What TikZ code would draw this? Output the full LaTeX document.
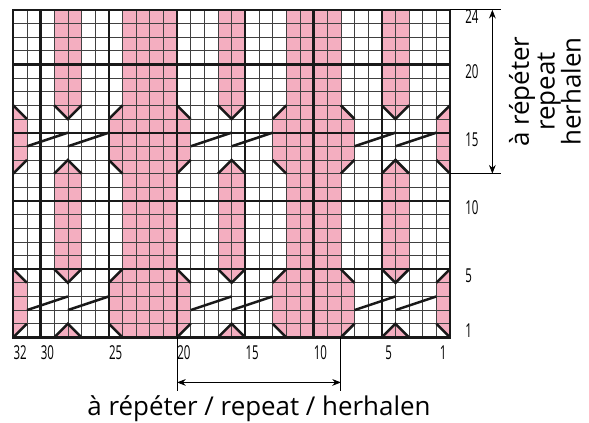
\documentclass[tikz,border=0pt]{standalone}
\usepackage{fontspec}
\setmainfont{Open Sans}
\newfontfamily\numfont[FakeStretch=0.6]{Open Sans}
\usetikzlibrary{arrows.meta}
\definecolor{rosa}{RGB}{244,174,192}

\tikzset{
  fin/.style={line width=0.7pt, black!75},
  tyk/.style={line width=2.4pt, black!90},
  snit/.style={line width=2.6pt, black!90},
  maal/.style={line width=0.8pt},
  nummer/.style={font=\numfont\fontsize{20}{20}\selectfont, inner sep=0pt},
  tekst/.style={font=\fontsize{27}{27}\selectfont, inner sep=0pt}
}

\begin{document}
\begin{tikzpicture} [x=0.5cm, y=0.5cm, >={Stealth[length=9pt,width=7pt]}]
    \useasboundingbox (-0.975,-6.24) rectangle (42.18,24.72);
    \begin{scope}
      \clip (0,0) rectangle (32,24);
      % brede striber
      \foreach \w in {-4,8,20,32} {
        \fill [rosa] (\w,0) rectangle (\w+4,24);
        \foreach \b in {0,12}
          \fill [rosa] (\w-1,\b+1) -- (\w-1,\b+4) -- (\w,\b+5) -- (\w+4,\b+5) -- (\w+5,\b+4) -- (\w+5,\b+1) -- (\w+4,\b) -- (\w,\b) -- cycle;
      }
      % smalle striber
      \foreach \s in {3,15,27} {
        \fill [rosa] (\s,24) -- (\s,17) -- (\s+1,16) -- (\s+2,17) -- (\s+2,24) -- cycle;
        \fill [rosa] (\s,12) -- (\s+1,13) -- (\s+2,12) -- (\s+2,5) -- (\s+1,4) -- (\s,5) -- cycle;
        \fill [rosa] (\s,0) -- (\s+1,1) -- (\s+2,0) -- cycle;
      }
    \end{scope}
    \draw [fin, step=0.5cm] (0,0) grid (32,24);
    \foreach \x in {2,7,12,17,22,27}
      \draw [tyk] (\x,0) -- (\x,24);
    \foreach \y in {5,10,15,20}
      \draw [tyk] (0,\y) -- (32,\y);
    \begin{scope}
      \clip (0,0) rectangle (32,24);
      \foreach \w in {-4,8,20,32} {
        \foreach \b in {0,12} {
          \draw [snit] (\w-1,\b+4) -- (\w,\b+5);
          \draw [snit] (\w+4,\b+5) -- (\w+5,\b+4);
          \draw [snit] (\w-1,\b+1) -- (\w,\b);
          \draw [snit] (\w+4,\b) -- (\w+5,\b+1);
        }
      }
      \foreach \s in {3,15,27} {
        \draw [snit] (\s,17) -- (\s+1,16) -- (\s+2,17);
        \draw [snit] (\s,12) -- (\s+1,13) -- (\s+2,12);
        \draw [snit] (\s,5) -- (\s+1,4) -- (\s+2,5);
        \draw [snit] (\s,0) -- (\s+1,1) -- (\s+2,0);
        % krydsninger
        \foreach \b in {2,14} {
          \draw [snit] (\s-2,\b) -- (\s+1,\b+1);
          \draw [snit] (\s+1,\b) -- (\s+4,\b+1);
        }
      }
    \end{scope}
    \draw [tyk] (0,0) rectangle (32,24);
    % numre
    \foreach \n in {32,30,25,20,15,10,5,1}
      \node [nummer] (m\n) at (32.5-\n,-1.15) {\n};
    \foreach \n in {24,20,15,10,5,1}
      \node [nummer, anchor=west] (r\n) at (33.1,\n-0.5) {\n};
    % gentagelse
    \draw [maal] (32,24) -- (35.7,24);
    \draw [maal] (32,12) -- (35.7,12);
    \draw [maal] (12,0) -- (12,-3.94);
    \draw [maal] (24,0) -- (24,-3.94);
    \coordinate (op) at (35.1,24);
    \coordinate (ned) at (35.1,12);
    \coordinate (venstre) at (12,-3.3);
    \coordinate (hoejre) at (24,-3.3);
    \draw [maal][<->] (op) -- (ned);
    \draw [maal][<->] (venstre) -- (hoejre);
    \node [tekst] (bund) at (18,-5.25) {à répéter / repeat / herhalen};
    \node [tekst, rotate=90, align=center] (side) at (38.95,18) {à répéter\\repeat\\herhalen};
  \end{tikzpicture}
\end{document}
